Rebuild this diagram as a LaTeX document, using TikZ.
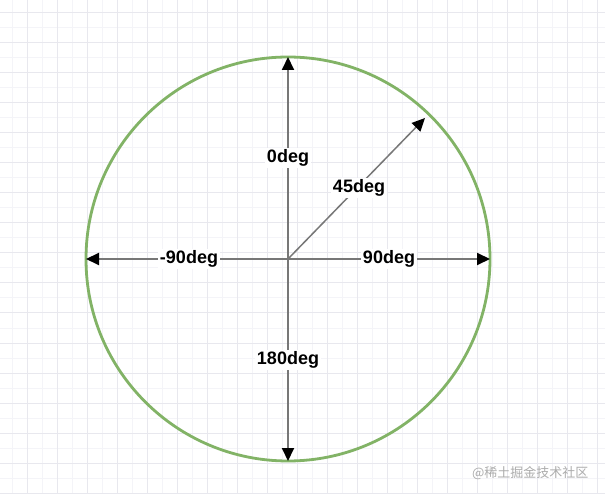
\documentclass[tikz,border=0pt]{standalone}
\usepackage{fontspec}
\setmainfont{Liberation Sans}
\newfontfamily\cjk{Noto Sans CJK SC}
\usetikzlibrary{arrows.meta}
\definecolor{gridminor}{HTML}{F4F4F8}
\definecolor{gridmajor}{HTML}{E8E8EE}
\definecolor{circgreen}{HTML}{82B366}
\definecolor{axisgray}{HTML}{777777}
\tikzset{
  axis/.style={draw=axisgray, line width=2pt, -{Triangle[length=13pt,width=12pt,fill=black,color=black]}},
  lbl/.style={fill=white, inner sep=1.5pt, font=\bfseries\fontsize{18}{18}\selectfont, text=black},
}
\begin{document}
\begin{tikzpicture}[x=1pt,y=-1pt]
\useasboundingbox (0,0) rectangle (605,494);
\fill[white] (0,0) rectangle (605,494);
% grid
\foreach \x in {12,42,...,600} \draw[gridminor, line width=1pt] (\x,0) -- (\x,494);
\foreach \y in {28,58,...,494} \draw[gridminor, line width=1pt] (0,\y) -- (605,\y);
\foreach \x in {27,57,...,600} \draw[gridmajor, line width=1pt] (\x,0) -- (\x,494);
\foreach \y in {13,43,...,494} \draw[gridmajor, line width=1pt] (0,\y) -- (605,\y);
% circle
\coordinate (c) at (288,259);
\draw[circgreen, line width=2.8pt] (c) circle[radius=202];
\coordinate (top) at (288,57);
\coordinate (bot) at (288,461);
\coordinate (lft) at (86,259);
\coordinate (rgt) at (490,259);
\coordinate (ne) at (425,118);
\draw[axis] (c) -- (top);
\draw[axis] (c) -- (bot);
\draw[axis] (c) -- (lft);
\draw[axis] (c) -- (rgt);
\draw[axis, line width=1.5pt] (c) -- (ne);
\node[lbl] (l0) at (288,158) {0deg};
\node[lbl] (l45) at (359,188) {45deg};
\node[lbl] (lm90) at (189,259) {-90deg};
\node[lbl] (l90) at (389,259) {90deg};
\node[lbl] (l180) at (288,360) {180deg};
\node[text=gray!65, font=\cjk\fontsize{13}{13}\selectfont, anchor=east] (wm) at (592,473) {@稀土掘金技术社区};
\end{tikzpicture}
\end{document}
